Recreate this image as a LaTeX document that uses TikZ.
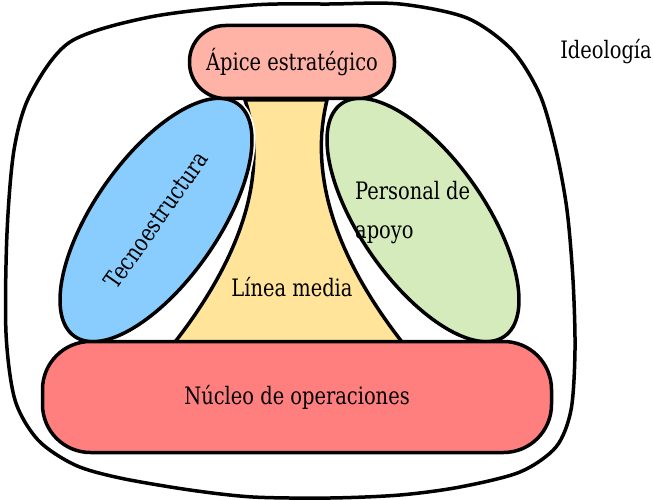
\documentclass[tikz,border=0pt]{standalone}
\usepackage{fontspec}
\setmainfont[FakeStretch=0.9]{DejaVu Serif Condensed}
\usetikzlibrary{shapes.geometric}
\definecolor{apicecol}{RGB}{255,179,167}
\definecolor{tecnocol}{RGB}{137,205,255}
\definecolor{apoyocol}{RGB}{213,235,187}
\definecolor{mediacol}{RGB}{255,228,153}
\definecolor{nucleocol}{RGB}{255,127,127}
\begin{document}
\begin{tikzpicture}
[x=1pt, y=-1pt,
 every node/.style={font=\fontsize{24}{39}\selectfont, inner sep=0pt},
 part/.style={draw=black, line width=3.5pt},
 halo/.style={preaction={draw=white, line width=7pt}},
 oval/.style={part, halo, ellipse, minimum width=284pt, minimum height=124pt}]
\useasboundingbox (0,0) rectangle (653,500);
% ideologia
\draw[part] plot[smooth cycle, tension=0.5] coordinates
  {(330,4) (400,4) (467,18) (512,50) (540,95) (556,150) (567,210)
   (573,280) (575,350) (571,410) (556,447) (520,472) (460,487)
   (400,495) (330,498) (253,497) (190,490) (120,478) (75,465)
   (38,440) (15,400) (6,333) (7,233) (14,150) (30,95) (70,42)
   (150,17) (253,5)};
\node (ideo) at (606,52) {Ideología};
% linea media
\filldraw[part, fill=mediacol] (245,100) .. controls (262,150) and (262,230) .. (175,342)
  -- (402,342) .. controls (315,230) and (315,150) .. (327,100) -- cycle;
\node (media) at (292,287) {Línea media};
\node[oval, fill=tecnocol, rotate=55] (tecno) at (156,220) {Tecnoestructura};
\node[oval, fill=apoyocol, rotate=-55] (apoyo) at (423,220) {};
\node[anchor=base west, align=left] (apoyotxt) at (355,238) {Personal de\\apoyo};
\node[part, fill=apicecol, rounded corners=36pt, minimum width=205pt,
  minimum height=73pt] (apice) at (292,62) {Ápice estratégico};
\node[part, fill=nucleocol, rounded corners=48pt, minimum width=509pt,
  minimum height=111pt] (nucleo) at (297,397) {Núcleo de operaciones};
\end{tikzpicture}
\end{document}
